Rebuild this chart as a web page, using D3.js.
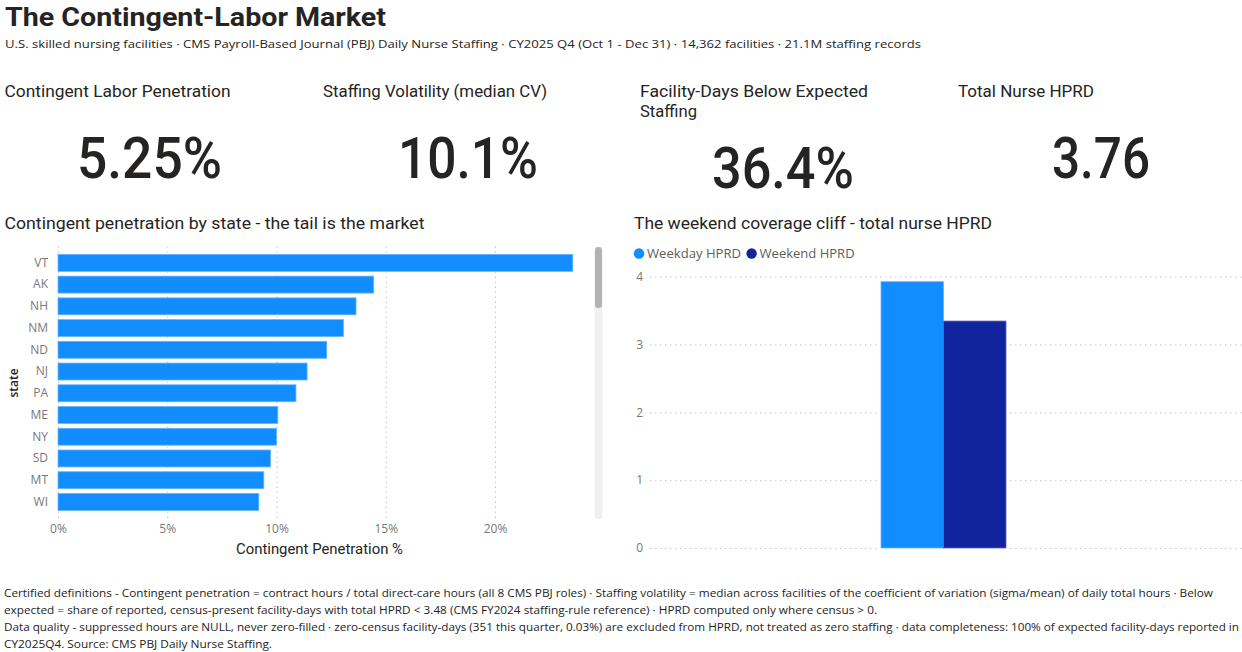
<!DOCTYPE html>
<html>
<head>
<meta charset="utf-8">
<title>The Contingent-Labor Market</title>
<script src="https://cdn.jsdelivr.net/npm/d3@7"></script>
<style>
    html, body { margin: 0; padding: 0; background: #fff; overflow: hidden; }
    svg { display: block; }
    .din { font-family: Roboto, sans-serif; fill: #252423; }
    .ui { font-family: "Open Sans", sans-serif; fill: #252423; }
    .axis text { font-family: "Open Sans", sans-serif; font-size: 12px; fill: #777; }
    .axis .domain { display: none; }
    .axis line { stroke: #C8C6C4; stroke-dasharray: 1.5 3.5; }
</style>
</head>
<body>
<div id="chart"></div>
<script>
// Data
const states = ["VT", "AK", "NH", "NM", "ND", "NJ", "PA", "ME", "NY", "SD", "MT", "WI"];
const penetration = [23.56, 14.45, 13.64, 13.06, 12.3, 11.4, 10.89, 10.06, 10.0, 9.73, 9.42, 9.19];
const penetrationTicks = [0, 5, 10, 15, 20];

const hprdSeries = ["Weekday HPRD", "Weekend HPRD"];
const hprdValues = [3.925, 3.345];
const hprdTicks = [0, 1, 2, 3, 4];

const kpiValues = ["5.25%", "10.1%", "36.4%", "3.76"];

const BLUE = "#118DFF";
const NAVY = "#12239E";

const svg = d3.select("#chart")
    .append("svg")
    .attr("width", 1242)
    .attr("height", 652);

// Text with a fitted width, the original fonts are not installed
function label(cls, txt, x, y, size, width, weight) {
    const t = svg.append("text")
        .attr("class", cls)
        .attr("x", x)
        .attr("y", y)
        .style("font-size", size + "px")
        .text(txt);
    if (width) t.attr("textLength", width).attr("lengthAdjust", "spacingAndGlyphs");
    if (weight) t.style("font-weight", weight);
    return t;
}

// Header
label("din", "The Contingent-Labor Market", 5, 26, 26, 381, 700);
label("ui", "U.S. skilled nursing facilities · CMS Payroll-Based Journal (PBJ) Daily Nurse Staffing · CY2025 Q4 (Oct 1 - Dec 31) · 14,362 facilities · 21.1M staffing records", 5, 48, 11.6, 916);

// KPI cards
label("din", "Contingent Labor Penetration", 4.5, 97, 16.5, 226);
label("din", "Staffing Volatility (median CV)", 323, 97, 16.5, 224);
label("din", "Facility-Days Below Expected", 640, 97, 16.5, 228);
label("din", "Staffing", 640, 117, 16.5, 57);
label("din", "Total Nurse HPRD", 958, 97, 16.5, 136);

label("din", kpiValues[0], 77, 178, 57, 145, 500);
label("din", kpiValues[1], 398, 178, 57, 140, 500);
label("din", kpiValues[2], 712, 188, 57, 142, 500);
label("din", kpiValues[3], 1052, 178, 57, 98, 500);

// Left chart: penetration by state
label("din", "Contingent penetration by state - the tail is the market", 4.5, 229, 16.5, 420);

const xPen = d3.scaleLinear()
    .domain([0, 24])
    .range([58, 582.4]);

const yState = d3.scaleBand()
    .domain(states)
    .range([252, 512.8])
    .paddingInner(0.22)
    .paddingOuter(0.11);

svg.append("g")
    .attr("class", "axis")
    .attr("transform", "translate(0,518)")
    .call(d3.axisBottom(xPen)
        .tickValues(penetrationTicks)
        .tickFormat(d => d + "%")
        .tickSize(-272)
        .tickPadding(6));

svg.append("g")
    .attr("class", "axis")
    .attr("transform", "translate(53,0)")
    .call(d3.axisLeft(yState).tickSize(0).tickPadding(5))
    .selectAll("line").remove();

svg.selectAll(".bar-state")
    .data(states)
    .enter()
    .append("rect")
    .attr("class", "bar-state")
    .attr("x", xPen(0))
    .attr("y", d => yState(d))
    .attr("width", (d, i) => xPen(penetration[i]) - xPen(0))
    .attr("height", yState.bandwidth())
    .attr("fill", BLUE)
    .attr("stroke", "#66B5FF")
    .attr("stroke-width", 0.8);

label("din", "Contingent Penetration %", 236, 554, 14.5, 167);

svg.append("text")
    .attr("class", "ui")
    .attr("transform", "translate(18,383) rotate(-90)")
    .attr("text-anchor", "middle")
    .style("font-size", "12px")
    .style("font-weight", 600)
    .text("state");

// Scrollbar of the state list
svg.append("rect")
    .attr("x", 594.5).attr("y", 247).attr("width", 8).attr("height", 272)
    .attr("rx", 3).attr("fill", "#F0F0F0");
svg.append("rect")
    .attr("x", 595).attr("y", 247).attr("width", 7).attr("height", 61)
    .attr("rx", 3).attr("fill", "#B3B3B3");

// Right chart: weekday vs weekend
label("din", "The weekend coverage cliff - total nurse HPRD", 634, 229, 16.5, 358);

const yHprd = d3.scaleLinear()
    .domain([0, 4])
    .range([548, 276.6]);

const xSeries = d3.scaleBand()
    .domain(hprdSeries)
    .range([881, 1006]);

svg.append("g")
    .attr("class", "axis")
    .attr("transform", "translate(650,0)")
    .call(d3.axisLeft(yHprd)
        .tickValues(hprdTicks)
        .tickFormat(d3.format("d"))
        .tickSize(-592)
        .tickPadding(7))
    .selectAll("line")
    .attr("x1", 0)
    .attr("x2", 592);

// White halo cuts the gridlines around the bars
svg.selectAll(".bar-halo")
    .data(hprdSeries)
    .enter()
    .append("rect")
    .attr("class", "bar-halo")
    .attr("x", d => xSeries(d))
    .attr("y", (d, i) => yHprd(hprdValues[i]))
    .attr("width", xSeries.bandwidth())
    .attr("height", (d, i) => yHprd(0) - yHprd(hprdValues[i]))
    .attr("fill", "#fff")
    .attr("stroke", "#fff")
    .attr("stroke-width", 6);

svg.selectAll(".bar-hprd")
    .data(hprdSeries)
    .enter()
    .append("rect")
    .attr("class", "bar-hprd")
    .attr("x", d => xSeries(d))
    .attr("y", (d, i) => yHprd(hprdValues[i]))
    .attr("width", xSeries.bandwidth())
    .attr("height", (d, i) => yHprd(0) - yHprd(hprdValues[i]))
    .attr("fill", (d, i) => i === 0 ? BLUE : NAVY)
    .attr("stroke", (d, i) => i === 0 ? "#66B5FF" : "#5A67C0")
    .attr("stroke-width", 0.8);

// Legend
const legendX = [639, 751.6];
const legendW = [94, 95];
hprdSeries.forEach((s, i) => {
    svg.append("circle")
        .attr("cx", legendX[i])
        .attr("cy", 253.5)
        .attr("r", 5.2)
        .attr("fill", i === 0 ? BLUE : NAVY);
    label("ui", s, legendX[i] + 8, 258, 13, legendW[i]).style("fill", "#605E5C");
});

// Footnotes
label("ui", "Certified definitions - Contingent penetration = contract hours / total direct-care hours (all 8 CMS PBJ roles) · Staffing volatility = median across facilities of the coefficient of variation (sigma/mean) of daily total hours · Below", 4, 597, 11.4, 1209);
label("ui", "expected = share of reported, census-present facility-days with total HPRD < 3.48 (CMS FY2024 staffing-rule reference) · HPRD computed only where census > 0.", 4, 614, 11.4, 873);
label("ui", "Data quality - suppressed hours are NULL, never zero-filled · zero-census facility-days (351 this quarter, 0.03%) are excluded from HPRD, not treated as zero staffing · data completeness: 100% of expected facility-days reported in", 4, 631, 11.4, 1235);
label("ui", "CY2025Q4. Source: CMS PBJ Daily Nurse Staffing.", 4, 648, 11.4, 268);
</script>
</body>
</html>
